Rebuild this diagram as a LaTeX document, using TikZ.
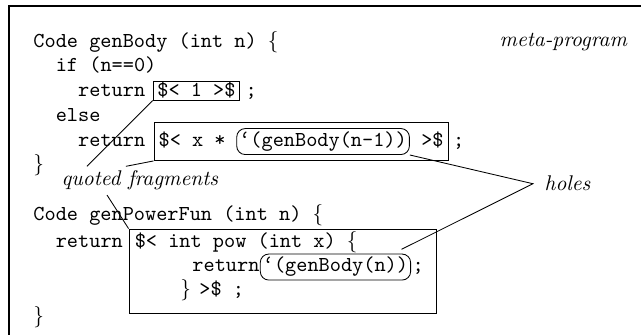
\documentclass[tikz,border=0pt]{standalone}
\usetikzlibrary{positioning,fit}

\tikzset{
  code/.style={font=\ttfamily, inner sep=0pt, anchor=base west},
  frag/.style={draw, inner xsep=2pt, inner ysep=0.6pt},
  hole/.style={draw, rounded corners=4pt, inner xsep=1.2pt, inner ysep=1.5pt},
  note/.style={font=\itshape, inner sep=2pt, anchor=base west},
}

\begin{document}
\begin{tikzpicture}[x=0.47pt, y=-0.47pt]
        \useasboundingbox (0,0) rectangle (641,335);
        \draw[line width=0.6pt] (9,335) -- (9,6) -- (641,6);

        % genBody
        \node[code] (l1) at (33,47.5) {Code genBody (int n) $\{$};
        \node[note] (meta) at (495,47) {meta-program};
        \node[code] (l2) at (55.4,72) {if (n==0)};
        \node[code] (ret1) at (77.8,97) {return};
        \node[code, frag, base right=3.3pt of ret1] (frag1) {\$< 1 >\$};
        \node[code, base right=2.3pt of frag1] (semi1) {;};
        \node[code] (l4) at (55.4,122) {else};
        \node[code] (ret2) at (77.8,146.5) {return};
        \node[code, base right=5.9pt of ret2] (q2a) {\$< x *};
        \node[code, hole, base right=4.8pt of q2a] (hole1) {\textquoteleft(genBody(n-1))};
        \node[code, base right=5.2pt of hole1] (q2b) {>\$};
        \node[frag, inner ysep=2.6pt, fit=(q2a)(hole1)(q2b)] (frag2) {};
        \node[code] (semi2) at ([xshift=1.8pt]frag2.east |- q2b.base) {;};
        \node[code] (l6) at (33,171) {$\}$};

        \node[note] (qf) at (57,186) {quoted fragments};

        % genPowerFun
        \node[code] (l7) at (33,221) {Code genPowerFun (int n) $\{$};
        \node[code] (ret3) at (55.4,248) {return};
        \node[code, base right=5.2pt of ret3] (q3a) {\$< int pow (int x) $\{$};
        \node[code] (ret4) at (192,272) {return};
        \node[code, hole, base right=0pt of ret4] (hole2) {\textquoteleft(genBody(n))};
        \node[code, base right=0.5pt of hole2] (semi3) {;};
        \node[code] (q3b) at (180,296) {$\}$};
        \node[code, base right=3.5pt of q3b] (q3c) {>\$ ;};
        \node[frag, inner sep=0pt, fit={(129,229) (436,313)}] (frag3) {};
        \node[code] (l11) at (33,323) {$\}$};

        \node[note] (holes) at (540,191) {holes};
        \coordinate (hp) at ([xshift=-3.3pt]holes.west);

        % labels to fragments and holes
        \draw (frag1.south west) -- ([xshift=14.1pt]qf.north west);
        \draw (frag2.south west) -- ([xshift=32.4pt]qf.north west);
        \draw ([xshift=23.5pt]qf.south west) -- (frag3.north west);
        \draw (hole1.south east) -- (hp) -- ([shift={(-4.5pt,2pt)}]hole2.north east);

\end{tikzpicture}
\end{document}
